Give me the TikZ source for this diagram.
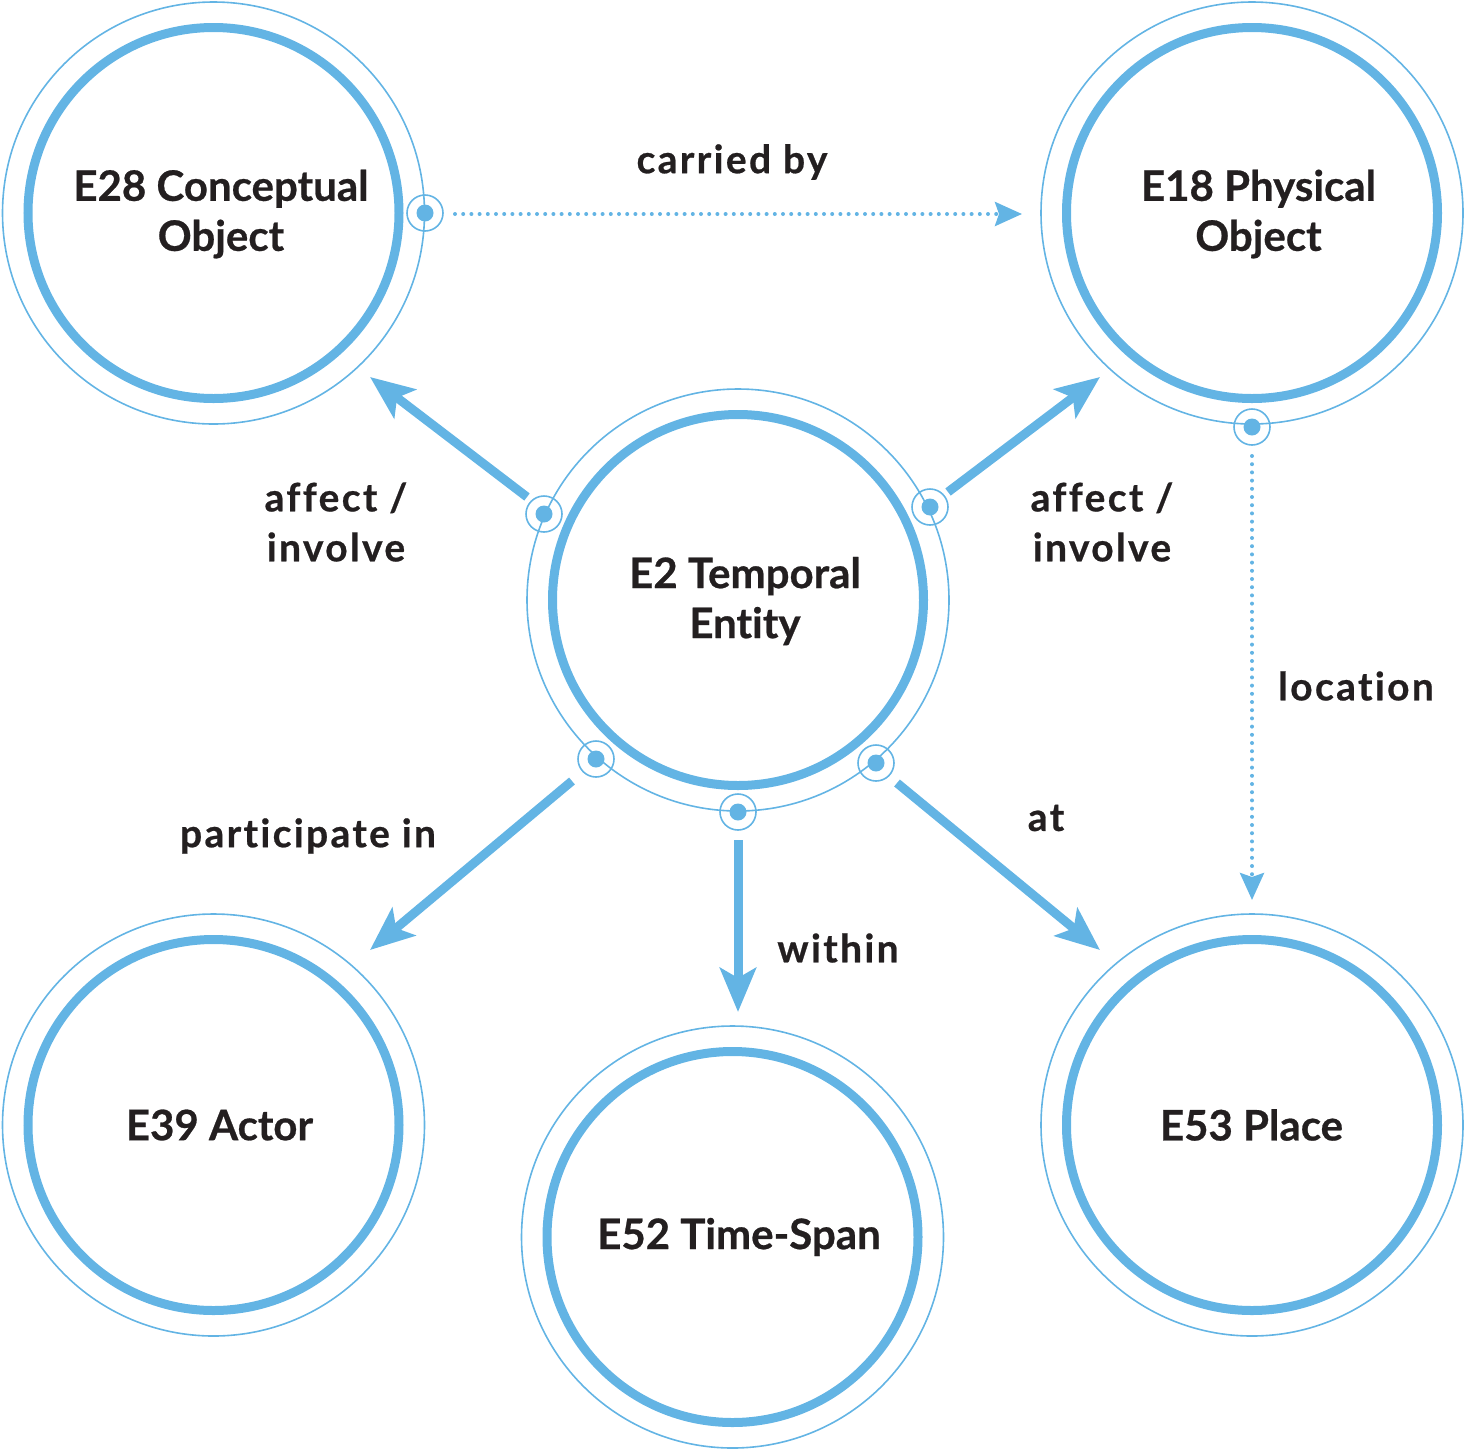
\documentclass[tikz,border=0pt]{standalone}
\usepackage{fontspec}
\setmainfont{Lato}[BoldFont={Lato Bold},Ligatures={NoCommon},BoldFeatures={FakeBold=0.6}]
\newfontfamily\lblfont{Lato}[BoldFont={Lato Bold},Ligatures={NoCommon},LetterSpace=6,BoldFeatures={FakeBold=0.6}]
\usetikzlibrary{arrows.meta}
\definecolor{cblue}{RGB}{99,180,228}
\definecolor{ctext}{RGB}{35,31,32}
\begin{document}
\begin{tikzpicture}[x=1pt,y=-1pt,
  outerring/.style={circle,draw=cblue,line width=1.6pt,minimum size=422pt,inner sep=0pt},
  innerring/.style={circle,draw=cblue,line width=9pt,minimum size=371pt,inner sep=0pt},
  ntext/.style={font=\fontsize{42}{50}\selectfont\bfseries,text=ctext,align=center,inner sep=0pt},
  dotring/.style={circle,draw=cblue,line width=1.6pt,minimum size=36pt,inner sep=0pt},
  dotfill/.style={circle,fill=cblue,minimum size=17pt,inner sep=0pt},
  thickarrow/.style={draw=cblue,line width=9pt,-{Stealth[length=44pt,width=36pt,inset=10pt]}},
  dotarrow/.style={draw=cblue,line width=4pt,line cap=round,dash pattern=on 0pt off 8.2pt,
    -{Stealth[length=27pt,width=24pt,inset=4pt,line cap=butt]}},
  lbl/.style={font=\lblfont\fontsize{39}{50}\selectfont\bfseries,text=ctext,align=center}
]
\useasboundingbox (0,0) rectangle (1465,1452);
% circles
\node[outerring] (o28) at (213.5,213) {};
\node[innerring] (E28) at (213.5,213) {};
\node[ntext] (t28) at (221,214) {E28 Conceptual\\Object};
\node[outerring] (o18) at (1252,213) {};
\node[innerring] (E18) at (1252,213) {};
\node[ntext] (t18) at (1258.5,214) {E18 Physical\\Object};
\node[outerring] (o2) at (738,600) {};
\node[innerring] (E2) at (738,600) {};
\node[ntext] (t2) at (745,601) {E2 Temporal\\Entity};
\node[outerring] (o39) at (213.5,1125) {};
\node[innerring] (E39) at (213.5,1125) {};
\node[ntext] (t39) at (219.5,1125) {E39 Actor};
\node[outerring] (o52) at (732.5,1237) {};
\node[innerring] (E52) at (732.5,1237) {};
\node[ntext] (t52) at (739,1237) {E52 Time-Span};
\node[outerring] (o53) at (1252,1125) {};
\node[innerring] (E53) at (1252,1125) {};
\node[ntext] (t53) at (1251.5,1125) {E53 Place};
% dots
\foreach \n/\p in {d28/{(425,213)}, d18/{(1252,427)}, dA/{(544,514)}, dB/{(930,507)},
                   dC/{(596,759)}, dD/{(876,763)}, dE/{(738,812)}}{
  \node[dotring] (\n) at \p {};
  \node[dotfill] at (\n) {};
}
% arrow ends
\coordinate (sA) at (527,497);  \coordinate (tA) at (370,377);
\coordinate (sB) at (948,492);  \coordinate (tB) at (1100,377);
\coordinate (sC) at (572,781);  \coordinate (tC) at (370,950);
\coordinate (sD) at (897,783);  \coordinate (tD) at (1100,950);
\coordinate (sE) at (738,840);  \coordinate (tE) at (738,1012);
\coordinate (sF) at (455,214);  \coordinate (tF) at (1022,214);
\coordinate (sG) at (1252,456); \coordinate (tG) at (1252,900);
\draw[thickarrow] (sA) -- (tA);
\draw[thickarrow] (sB) -- (tB);
\draw[thickarrow] (sC) -- (tC);
\draw[thickarrow] (sD) -- (tD);
\draw[thickarrow] (sE) -- (tE);
\draw[dotarrow] (sF) -- (tF);
\draw[dotarrow] (sG) -- (tG);
% labels
\node[lbl] (l1) at (732,162) {carried by};
\node[lbl] (l2) at (336,522) {affect /\\involve};
\node[lbl] (l3) at (1102,522) {affect /\\involve};
\node[lbl] (l4) at (1356,686) {location};
\node[lbl] (l5) at (308,836) {participate in};
\node[lbl] (l6) at (838,948) {within};
\node[lbl] (l7) at (1046,818) {at};
\end{tikzpicture}
\end{document}
